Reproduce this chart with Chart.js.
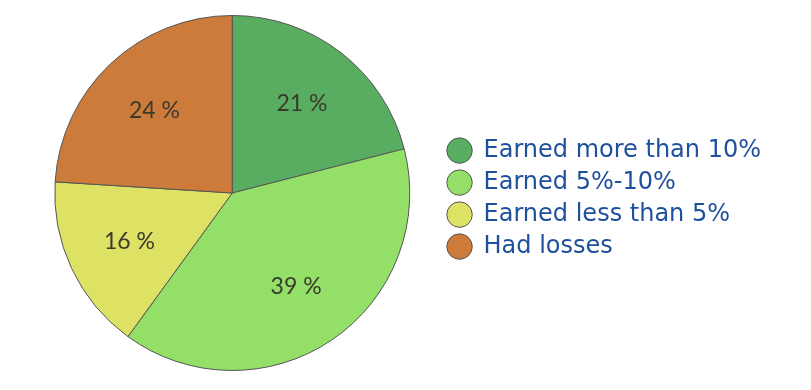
<!DOCTYPE html>
<html>
<head>
<meta charset="utf-8">
<script src="https://cdn.jsdelivr.net/npm/chart.js@4"></script>
<style>
  html, body { margin: 0; padding: 0; background: #fff; }
  #wrap { width: 811px; height: 390px; }
</style>
</head>
<body>
<div id="wrap"><canvas id="myChart" width="811" height="390"></canvas></div>
<script>
// data
let groups = ['Earned more than 10%', 'Earned 5%-10%', 'Earned less than 5%', 'Had losses'];
let shares = [21, 39, 16, 24];
let colors = ['#58ad60', '#93df68', '#dde265', '#cd7b3b'];

// write the % labels inside each slice
let sliceLabels = {
    id: 'sliceLabels',
    afterDatasetsDraw(chart) {
        let ctx = chart.ctx;
        let meta = chart.getDatasetMeta(0);
        ctx.save();
        ctx.font = '23px Lato';
        ctx.fillStyle = '#3b3a2c';
        ctx.textAlign = 'center';
        ctx.textBaseline = 'middle';
        meta.data.forEach(function (arc, i) {
            let p = arc.getProps(['x', 'y', 'startAngle', 'endAngle', 'outerRadius']);
            let mid = (p.startAngle + p.endAngle) / 2;
            let r = p.outerRadius * 0.64;
            ctx.fillText(shares[i] + ' %', p.x + Math.cos(mid) * r, p.y + Math.sin(mid) * r);
        });
        ctx.restore();
    }
};

var ct = document.getElementById('myChart');
let chart = new Chart(ct, {
    type: 'pie',
    data: {
        labels: groups,
        datasets: [{
            data: shares,
            backgroundColor: colors,
            borderColor: '#555',
            borderWidth: 1
        }]
    },
    options: {
        responsive: false,
        animation: false,
        layout: { padding: { top: 15, bottom: 19, left: 25, right: 40 } },
        plugins: {
            tooltip: { enabled: false },
            legend: {
                position: 'right',
                // empty title just nudges the items down a few px
                title: { display: true, text: ' ', font: { size: 1 }, padding: 5 },
                labels: {
                    usePointStyle: true,
                    pointStyle: 'circle',
                    boxHeight: 18,
                    padding: 8,
                    color: '#1f509d',
                    font: { family: 'DejaVu Sans', size: 24 }
                }
            }
        }
    },
    plugins: [sliceLabels]
});
</script>
</body>
</html>
